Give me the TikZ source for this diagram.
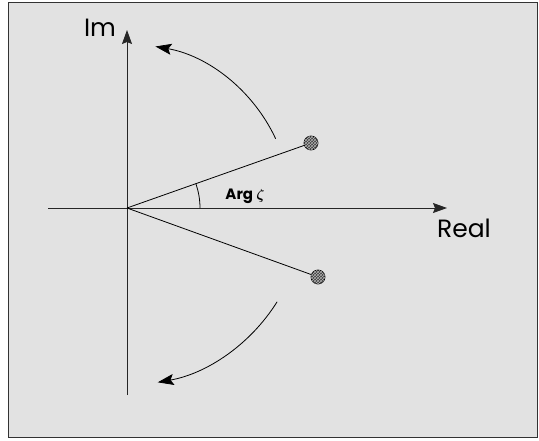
\documentclass[tikz,border=0pt]{standalone}
\usepackage{fontspec}
\usepackage{bm}
\newfontfamily\labelfont{Poppins}
\usetikzlibrary{arrows.meta,patterns}
\definecolor{panelgray}{RGB}{226,226,226}
\definecolor{dotgray}{RGB}{60,60,60}

\begin{document}
\begin{tikzpicture}[x=1pt, y=1pt, font=\labelfont,
      axis/.style={draw=black!85, line width=0.9pt, -{Stealth[length=14pt, width=10pt, inset=2pt]}},
      swing/.style={draw=black, line width=0.8pt, -{Stealth[length=16pt, width=11pt, inset=3pt]}},
      ray/.style={draw=black, line width=0.8pt},
      root/.style={circle, draw=black, fill=dotgray, line width=0.7pt, minimum size=14pt, inner sep=0pt,
                   postaction={pattern=crosshatch, pattern color=gray!60}}]
    \useasboundingbox (0,0) rectangle (539,440);
    \draw[black!80, fill=panelgray, line width=0.8pt] (8,3) rectangle (537,438);
    % axes
    \coordinate (O) at (127,232);
    \coordinate (xstart) at (48,232);
    \coordinate (xend) at (447,232);
    \coordinate (ystart) at (127,45);
    \coordinate (yend) at (127,410);
    \draw[axis] (xstart) -- (xend);
    \draw[axis] (ystart) -- (yend);
    \node (lblIm) at (100,412) {\fontsize{25}{25}\selectfont Im};
    \node (lblReal) at (464,212) {\fontsize{25}{25}\selectfont Real};
    % roots
    \node[root] (rootup) at (311,297) {};
    \node[root] (rootdown) at (318,163) {};
    \draw[ray] (O) -- (rootup);
    \draw[ray] (O) -- (rootdown);
    % angle
    \draw[ray] (O) ++(0:73) arc[start angle=0, end angle=19.5, radius=73];
    \node (lblArg) at (245,244) {\fontsize{15}{15}\selectfont\bfseries Arg $\bm{\zeta}$};
    % swings
    \draw[swing] (O) ++(25:164) arc[start angle=25, end angle=80, radius=164];
    \draw[swing] (O) ++(-32:177) arc[start angle=-32, end angle=-80, radius=177];
\end{tikzpicture}
\end{document}
